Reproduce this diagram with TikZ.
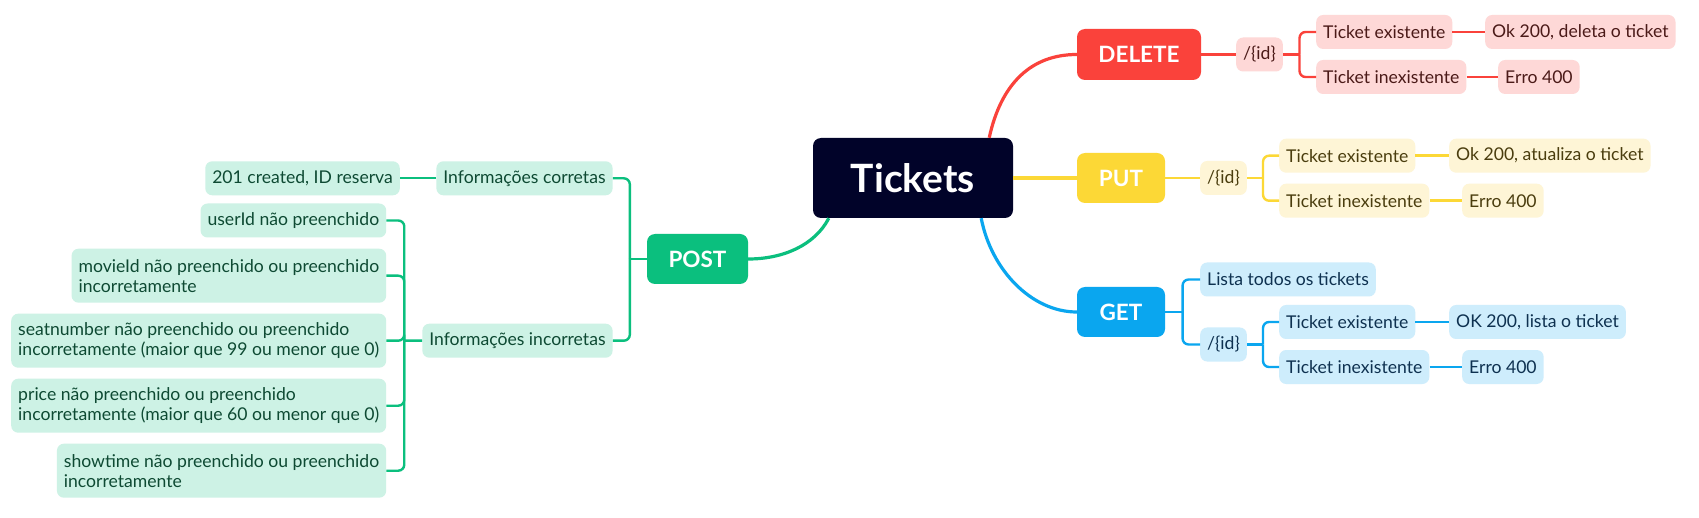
\documentclass[tikz,border=0pt]{standalone}
\usepackage{fontspec}
\setmainfont{Lato}
\usetikzlibrary{calc}
\definecolor{navy}{HTML}{010329}
\definecolor{redm}{HTML}{FA423B}
\definecolor{redl}{HTML}{FED8D7}
\definecolor{redt}{HTML}{4B1A18}
\definecolor{yelm}{HTML}{FCD836}
\definecolor{yell}{HTML}{FEF5D6}
\definecolor{yelt}{HTML}{4A3D0E}
\definecolor{blum}{HTML}{0AA6EF}
\definecolor{blul}{HTML}{CEEDFC}
\definecolor{blut}{HTML}{0E3150}
\definecolor{grnm}{HTML}{0BBF7E}
\definecolor{grnl}{HTML}{CDF2E5}
\definecolor{grnt}{HTML}{0E4A33}
\begin{document}
\begin{tikzpicture}[x=1pt,y=-1pt,
  hub/.style={rounded corners=8pt, minimum height=50pt, inner sep=0pt, text=white,
    font=\fontsize{22.5}{26}\selectfont\bfseries},
  leaf/.style={rounded corners=7pt, inner xsep=7pt, inner ysep=0pt, minimum height=34pt,
    font=\fontsize{17.6}{20}\selectfont},
  tall/.style={leaf, minimum height=54pt, align=left},
  rleaf/.style={leaf, fill=redl, text=redt},
  yleaf/.style={leaf, fill=yell, text=yelt},
  bleaf/.style={leaf, fill=blul, text=blut},
  gleaf/.style={leaf, fill=grnl, text=grnt},
  gtall/.style={tall, fill=grnl, text=grnt},
  curve/.style={line width=3.2pt},
  brk/.style={line width=2.4pt, rounded corners=6pt}]
\useasboundingbox (0,0) rectangle (1699,518);
\fill[white] (0,0) rectangle (1699,518);

% central node
\node[fill=navy, rounded corners=8pt, minimum width=200pt, minimum height=80pt, inner sep=0pt,
  text=white, font=\fontsize{39}{44}\selectfont\bfseries] (tickets) at (913,178) {Tickets};

% hubs
\node[hub, fill=redm, minimum width=124pt, minimum height=51pt] (delete) at (1139,54.5) {DELETE};
\node[hub, fill=yelm, minimum width=88pt] (put) at (1121,178) {PUT};
\node[hub, fill=blum, minimum width=88pt] (get) at (1121,312) {GET};
\node[hub, fill=grnm, minimum width=101pt] (post) at (697.5,259) {POST};

% DELETE branch
\node[rleaf, anchor=west] (did) at (1236,54.5) {/\{id\}};
\node[rleaf, anchor=west] (dex) at (1316,32) {Ticket existente};
\node[rleaf, anchor=west] (dok) at (1485,32) {Ok 200, deleta o ticket};
\node[rleaf, anchor=west] (din) at (1316,77) {Ticket inexistente};
\node[rleaf, anchor=west] (der) at (1498,77) {Erro 400};

% PUT branch
\node[yleaf, anchor=west] (uid) at (1200,178) {/\{id\}};
\node[yleaf, anchor=west] (uex) at (1279,155.7) {Ticket existente};
\node[yleaf, anchor=west] (uok) at (1449,155.7) {Ok 200, atualiza o ticket};
\node[yleaf, anchor=west] (uin) at (1279,200.7) {Ticket inexistente};
\node[yleaf, anchor=west] (uer) at (1462,200.7) {Erro 400};

% GET branch
\node[bleaf, anchor=west] (glist) at (1200,279.5) {Lista todos os tickets};
\node[bleaf, anchor=west] (gid) at (1200,344.5) {/\{id\}};
\node[bleaf, anchor=west] (gex) at (1279,322) {Ticket existente};
\node[bleaf, anchor=west] (gok) at (1449,322) {OK 200, lista o ticket};
\node[bleaf, anchor=west] (gin) at (1279,367) {Ticket inexistente};
\node[bleaf, anchor=west] (ger) at (1462,367) {Erro 400};

% POST branch
\node[gleaf, anchor=east] (pcor) at (612.8,178.3) {Informações corretas};
\node[gleaf, anchor=east] (pcre) at (400,178.3) {201 created, ID reserva};
\node[gleaf, anchor=east] (pinc) at (612.8,340.7) {Informações incorretas};
\node[gleaf, anchor=east] (pu1) at (386.4,220.5) {userId não preenchido};
\node[gtall, anchor=east] (pu2) at (386.4,275.7) {movieId não preenchido ou preenchido\\incorretamente};
\node[gtall, anchor=east] (pu3) at (386.4,340.7) {seatnumber não preenchido ou preenchido\\incorretamente (maior que 99 ou menor que 0)};
\node[gtall, anchor=east] (pu4) at (386.4,405.7) {price não preenchido ou preenchido\\incorretamente (maior que 60 ou menor que 0)};
\node[gtall, anchor=east] (pu5) at (386.4,470.7) {showtime não preenchido ou preenchido\\incorretamente};

% main connectors
\draw[curve, redm] ([xshift=-24pt]tickets.north east) .. controls +(12,-55) and +(-45,0) .. (delete.west);
\draw[curve, yelm] (tickets.east) -- (put.west);
\draw[curve, blum] ([xshift=-32pt]tickets.south east) .. controls +(10,52) and +(-45,0) .. (get.west);
\draw[curve, grnm] ([xshift=16pt]tickets.south west) .. controls +(-14,27) and +(35,0) .. (post.east);

% DELETE connectors
\draw[brk, redm] (delete.east) -- (did.west);
\coordinate (dj) at ($(did.east)!0.5!(did.east -| dex.west)$);
\draw[brk, redm] (did.east) -- (dj);
\draw[brk, redm] (dj) |- (dex.west);
\draw[brk, redm] (dj) |- (din.west);
\draw[brk, redm] (dex.east) -- (dok.west);
\draw[brk, redm] (din.east) -- (der.west);

% PUT connectors
\draw[brk, yelm] (put.east) -- (uid.west);
\coordinate (uj) at ($(uid.east)!0.5!(uid.east -| uex.west)$);
\draw[brk, yelm] (uid.east) -- (uj);
\draw[brk, yelm] (uj) |- (uex.west);
\draw[brk, yelm] (uj) |- (uin.west);
\draw[brk, yelm] (uex.east) -- (uok.west);
\draw[brk, yelm] (uin.east) -- (uer.west);

% GET connectors
\coordinate (gj) at ($(get.east)!0.5!(get.east -| glist.west)$);
\draw[brk, blum] (get.east) -- (gj);
\draw[brk, blum] (gj) |- (glist.west);
\draw[brk, blum] (gj) |- (gid.west);
\coordinate (gk) at ($(gid.east)!0.5!(gid.east -| gex.west)$);
\draw[brk, blum] (gid.east) -- (gk);
\draw[brk, blum] (gk) |- (gex.west);
\draw[brk, blum] (gk) |- (gin.west);
\draw[brk, blum] (gex.east) -- (gok.west);
\draw[brk, blum] (gin.east) -- (ger.west);

% POST connectors
\coordinate (pj) at ($(post.west)!0.5!(post.west -| pcor.east)$);
\draw[brk, grnm] (post.west) -- (pj);
\draw[brk, grnm] (pj) |- (pcor.east);
\draw[brk, grnm] (pj) |- (pinc.east);
\draw[brk, grnm] (pcor.west) -- (pcre.east);
\coordinate (pk) at ($(pinc.west)!0.5!(pinc.west -| pu1.east)$);
\draw[brk, grnm] (pinc.west) -- (pk);
\draw[brk, grnm] (pk) |- (pu1.east);
\draw[brk, grnm] (pk) |- (pu2.east);
\draw[brk, grnm] (pk) |- (pu3.east);
\draw[brk, grnm] (pk) |- (pu4.east);
\draw[brk, grnm] (pk) |- (pu5.east);
\end{tikzpicture}
\end{document}
